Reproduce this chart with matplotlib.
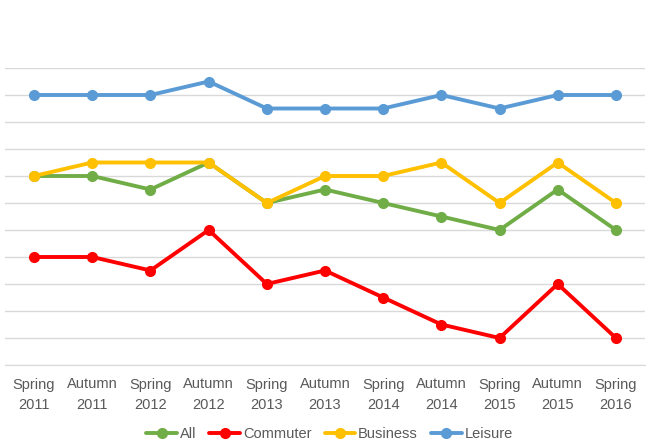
import numpy as np
import matplotlib.pyplot as plt

# Survey periods and index values (arbitrary units)
periods = ["Spring\n2011", "Autumn\n2011", "Spring\n2012", "Autumn\n2012", "Spring\n2013",
           "Autumn\n2013", "Spring\n2014", "Autumn\n2014", "Spring\n2015", "Autumn\n2015",
           "Spring\n2016"]
all_vals = [7, 7, 6.5, 7.5, 6, 6.5, 6, 5.5, 5, 6.5, 5]
commuter = [4, 4, 3.5, 5, 3, 3.5, 2.5, 1.5, 1, 3, 1]
business = [7, 7.5, 7.5, 7.5, 6, 7, 7, 7.5, 6, 7.5, 6]
leisure = [10, 10, 10, 10.5, 9.5, 9.5, 9.5, 10, 9.5, 10, 10]

series = [("All", all_vals, "#70AD47"),
          ("Commuter", commuter, "#FF0000"),
          ("Business", business, "#FFC000"),
          ("Leisure", leisure, "#5B9BD5")]

plt.rcParams['font.family'] = ['Liberation Sans Narrow', 'Liberation Sans', 'DejaVu Sans']

fig = plt.figure(figsize=(6.59, 4.47), dpi=100)
ax = fig.add_axes([5 / 659, 82 / 447, 640 / 659, 297 / 447])

x = np.arange(len(periods))
for name, vals, col in series:
    ax.plot(x, vals, color=col, lw=2.8, marker="o", ms=7, label=name, solid_capstyle="round")

ax.set_xlim(-0.5, len(periods) - 0.5)
ax.set_ylim(0, 11)
ax.set_yticks(np.arange(0, 12, 1))
ax.set_yticklabels([])
ax.tick_params(axis="y", length=0)
ax.tick_params(axis="x", length=0, pad=9, labelsize=10.5, labelcolor="#595959")
ax.set_xticks(x)
ax.set_xticklabels(periods, linespacing=1.55)
ax.grid(axis="y", color="#D9D9D9", lw=1)
ax.set_axisbelow(True)
for s in ["top", "left", "right"]:
    ax.spines[s].set_visible(False)
ax.spines["bottom"].set_color("#D9D9D9")

leg = fig.legend(loc="center", bbox_to_anchor=(0.5, 13 / 447), ncol=4, frameon=False,
                 fontsize=10.5, handlelength=2.1, columnspacing=0.9, handletextpad=0.2)
for t in leg.get_texts():
    t.set_color("#595959")

fig.savefig("out.png", dpi=100)
